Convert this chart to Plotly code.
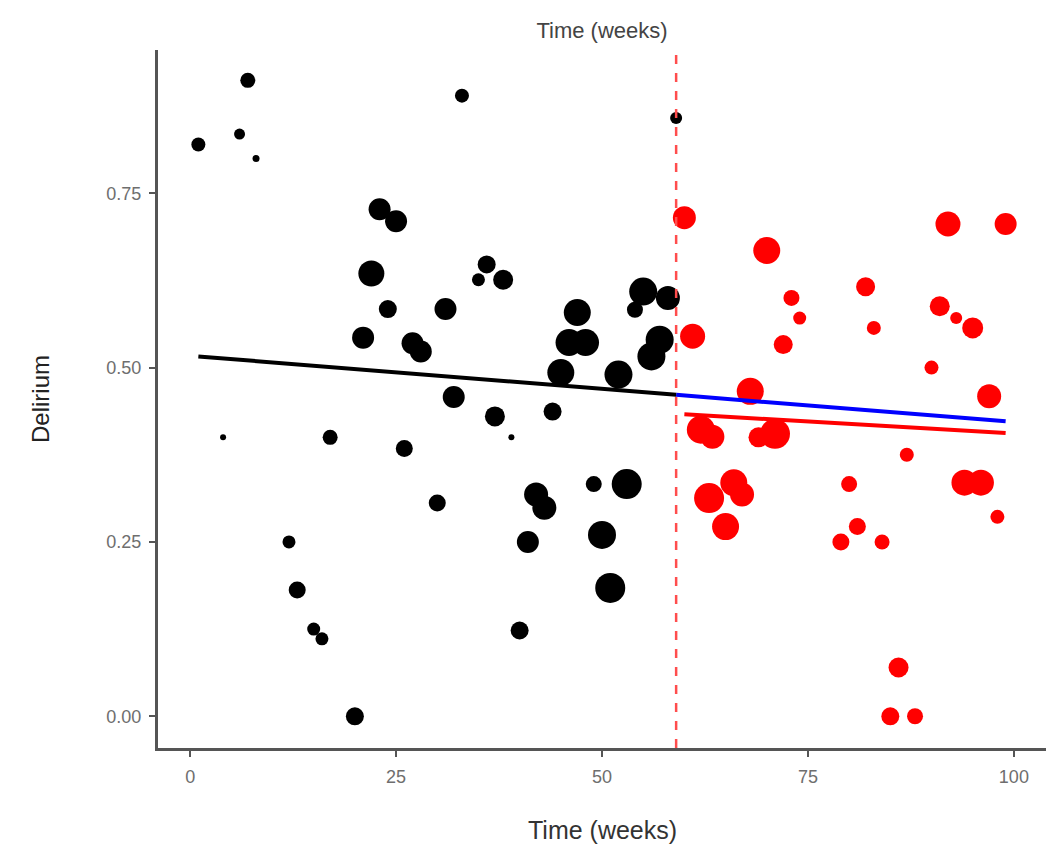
import plotly.graph_objects as go

# Weekly delirium rates before the intervention (black) and after (red);
# marker size reflects the number of patients observed that week.
pre_week = [1, 4, 6, 7, 8, 12, 13, 15, 16, 17, 20, 21, 22, 23, 24, 25, 26, 27, 28,
            30, 31, 32, 33, 35, 36, 37, 38, 39, 40, 41, 42, 43, 44, 45, 46, 47, 48,
            49, 50, 51, 52, 53, 54, 55, 56, 57, 58, 59]
pre_delirium = [0.82, 0.40, 0.835, 0.912, 0.80, 0.25, 0.181, 0.125, 0.111, 0.40, 0.0,
                0.543, 0.635, 0.727, 0.584, 0.71, 0.384, 0.535, 0.523, 0.306, 0.584,
                0.458, 0.89, 0.626, 0.648, 0.43, 0.626, 0.40, 0.123, 0.25, 0.318,
                0.299, 0.437, 0.493, 0.536, 0.579, 0.536, 0.333, 0.26, 0.184, 0.49,
                0.333, 0.583, 0.609, 0.516, 0.54, 0.60, 0.858]
pre_size = [14, 6, 11, 15, 7, 13, 17, 13, 13, 15, 18, 22, 26, 22, 18, 22, 17, 22, 22,
            17, 22, 22, 14, 13, 18, 20, 20, 6, 18, 22, 24, 24, 18, 27, 27, 27, 27,
            16, 28, 30, 28, 30, 16, 28, 28, 28, 24, 12]

post_week = [60, 61, 62, 63, 63.4, 65, 66, 67, 68, 69, 70, 71, 72, 73, 74, 79, 80, 81,
             82, 83, 84, 85, 86, 87, 88, 90, 91, 92, 93, 94, 95, 96, 97, 98, 99]
post_delirium = [0.715, 0.545, 0.411, 0.313, 0.401, 0.272, 0.335, 0.318, 0.466, 0.40,
                 0.668, 0.405, 0.533, 0.60, 0.571, 0.25, 0.333, 0.272, 0.616, 0.557,
                 0.25, 0.0, 0.07, 0.375, 0.0, 0.50, 0.588, 0.706, 0.571, 0.335, 0.557,
                 0.335, 0.459, 0.286, 0.706]
post_size = [23, 25, 28, 30, 24, 27, 27, 24, 27, 20, 27, 30, 19, 16, 13, 17, 16, 17,
             19, 14, 15, 18, 20, 14, 16, 14, 20, 25, 12, 26, 21, 26, 24, 14, 22]

intervention_week = 59

# Linear trends: pre-period fit (extended as a counterfactual) and post-period fit
pre_fit = (0.517, -0.00095)
post_fit = (0.4745, -0.00069)
pre_span = [1, intervention_week]
counterfactual_span = [intervention_week, 99]
post_span = [60, 99]


def trend(fit, xs):
    return [fit[0] + fit[1] * x for x in xs]


fig = go.Figure()

fig.add_trace(go.Scatter(
    x=pre_week, y=pre_delirium, mode="markers",
    marker=dict(color="black", size=pre_size, opacity=1, line=dict(width=0)),
    showlegend=False))
fig.add_trace(go.Scatter(
    x=post_week, y=post_delirium, mode="markers",
    marker=dict(color="#ff0000", size=post_size, opacity=1, line=dict(width=0)),
    showlegend=False))

fig.add_trace(go.Scatter(
    x=counterfactual_span, y=trend(pre_fit, counterfactual_span), mode="lines",
    line=dict(color="#0000ff", width=4), showlegend=False))
fig.add_trace(go.Scatter(
    x=pre_span, y=trend(pre_fit, pre_span), mode="lines",
    line=dict(color="black", width=4), showlegend=False))
fig.add_trace(go.Scatter(
    x=post_span, y=trend(post_fit, post_span), mode="lines",
    line=dict(color="#ff0000", width=4), showlegend=False))

fig.add_shape(type="line", xref="x", yref="paper",
              x0=intervention_week, x1=intervention_week, y0=0, y1=1,
              line=dict(color="#ff4d4d", width=2.5, dash="9px,9px"))

axis_color = "#555555"
tick_font = dict(family="Liberation Sans, Arial, sans-serif", size=18, color="#6e6e6e")

fig.update_xaxes(
    range=[-3.9, 103.9], tickvals=[0, 25, 50, 75, 100],
    showline=True, linecolor=axis_color, linewidth=3,
    ticks="outside", ticklen=6, tickwidth=2, tickcolor=axis_color,
    showgrid=False, zeroline=False, tickfont=tick_font, ticklabelstandoff=4)
fig.update_yaxes(
    range=[-0.0455, 0.9555], tickvals=[0, 0.25, 0.5, 0.75],
    ticktext=["0.00", "0.25", "0.50", "0.75"],
    showline=True, linecolor=axis_color, linewidth=3,
    ticks="outside", ticklen=6, tickwidth=2, tickcolor=axis_color,
    showgrid=False, zeroline=False, tickfont=tick_font, ticklabelstandoff=4)

fig.add_annotation(text="Time (weeks)", xref="paper", yref="paper", x=0.5, y=0,
                   yanchor="middle", yshift=-82, showarrow=False,
                   font=dict(family="Liberation Sans, Arial, sans-serif", size=25,
                             color="#333333"))
fig.add_annotation(text="Delirium", xref="paper", yref="paper", x=0, y=0.5,
                   xanchor="center", xshift=-118, textangle=-90, showarrow=False,
                   font=dict(family="Liberation Sans, Arial, sans-serif", size=24,
                             color="#222222"))

fig.update_layout(
    width=1049, height=850,
    margin=dict(l=158, r=3, t=50, b=102),
    paper_bgcolor="white", plot_bgcolor="white",
    title=dict(text="Time (weeks)", x=0.5, xref="paper", y=1 - 30 / 850,
               yref="container", yanchor="middle", xanchor="center",
               font=dict(family="Liberation Sans, Arial, sans-serif", size=22,
                         color="#444444")),
)

fig.write_html("out.html")
